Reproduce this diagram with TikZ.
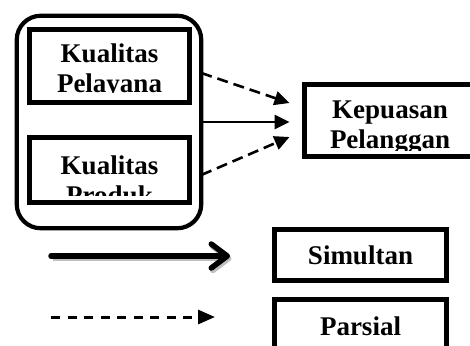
\documentclass[tikz,border=0pt]{standalone}
\usepackage{fontspec}
\setmainfont{Liberation Serif}
\usetikzlibrary{arrows.meta,positioning,calc}

\tikzset{
  kotak/.style={draw,line width=5pt,rectangle,inner sep=0pt,outer sep=0pt,fill=white},
  teks/.style={font=\bfseries\fontsize{27}{29.5}\selectfont,align=center,inner sep=0pt},
  panah/.style={line width=2.6pt,-{Triangle[length=15pt,width=14pt]}},
  putus/.style={panah,dash pattern=on 11pt off 6pt},
}

\begin{document}
\begin{tikzpicture}[x=1pt,y=-1pt]
  \clip (0,0) rectangle (470,345);
  % Kelompok variabel X
  \node[draw,line width=4.2pt,rounded corners=24pt,minimum width=184.5pt,
        minimum height=212.5pt,inner sep=0pt,outer sep=0pt] (grp) at (109,122) {};
  \node[kotak,minimum width=160pt,minimum height=73pt] (pel) at (109.5,66) {};
  \node[kotak,minimum width=160pt,minimum height=65pt] (pro) at (109.5,170) {};
  % Variabel Y
  \node[kotak,minimum width=171pt,minimum height=72pt] (kep) at (390,120.5) {};
  % Teks terpotong
  \begin{scope}
    \clip (pel.north west) rectangle (192,92.3);
    \node[teks,anchor=base] (tpel) at (109.5,92) {Kualitas\\Pelayana};
  \end{scope}
  \begin{scope}
    \clip (pro.north west) rectangle (192,195);
    \node[teks,anchor=base] (tpro) at (109.5,204) {Kualitas\\Produk};
  \end{scope}
  \begin{scope}
    \clip (kep.north west) rectangle (470,150);
    \node[teks,anchor=base] (tkep) at (390,148) {Kepuasan\\Pelanggan};
  \end{scope}
  % Panah hubungan
  \coordinate (ujung) at ([xshift=-15pt]kep.west);
  \draw[putus] ([yshift=49pt]grp.east) -- ([xshift=-15pt,yshift=17.5pt]kep.west);
  \draw[panah] (grp.east) -- (ujung |- grp.east);
  \draw[putus] ([yshift=-53pt]grp.east) -- ([xshift=-15pt,yshift=-16.5pt]kep.west);
  % Keterangan
  \coordinate (ls1) at (51,256);
  \coordinate (ls2) at (230,256);
  \coordinate (ld1) at (51,317);
  \coordinate (ld2) at (215,317);
  \draw[line width=5.5pt,line cap=round,-{Straight Barb[length=16pt,width=24pt,round]},
        preaction={draw=black!25,line width=5.5pt,transform canvas={shift={(1.5pt,-2.5pt)}}}]
    (ls1) -- (ls2);
  \draw[line width=3pt,dash pattern=on 9pt off 7.5pt,-{Triangle[length=17pt,width=14pt]}]
    (ld1) -- (ld2);
  \node[kotak,teks,minimum width=172pt,minimum height=51pt] (sim) at (360.5,255) {Simultan};
  \node[kotak,teks,minimum width=172pt,minimum height=53pt] (par) at (360.5,326) {Parsial};
\end{tikzpicture}
\end{document}
